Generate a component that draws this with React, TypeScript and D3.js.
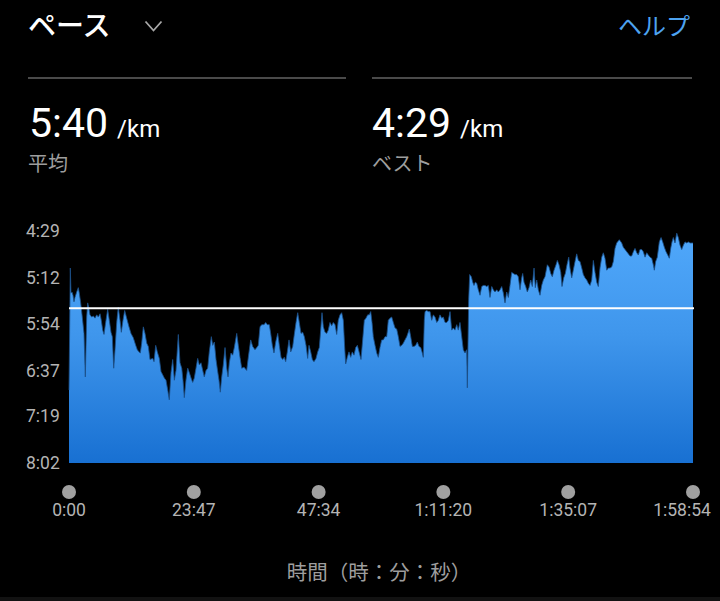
import React from "react";
import * as d3 from "d3";

// elapsed time (minutes) and pace (seconds per km)
const elapsedMin = [
  0, 0.25, 0.38, 0.57, 0.76, 0.95, 1.14, 1.47, 1.77, 1.96,
  2.23, 2.53, 2.86, 3.11, 3.37, 3.56, 3.75, 4.0, 4.33, 4.63,
  4.95, 5.28, 5.58, 5.91, 6.15, 6.42, 6.67, 6.99, 7.37, 7.68,
  8.0, 8.25, 8.52, 8.77, 9.09, 9.39, 9.72, 9.97, 10.29, 10.61,
  10.99, 11.43, 11.81, 12.25, 12.71, 13.01, 13.34, 13.59, 13.85, 14.16,
  14.48, 14.81, 15.11, 15.43, 15.95, 16.2, 16.52, 16.83, 17.21, 17.53,
  17.85, 18.16, 18.48, 18.81, 19.11, 19.44, 19.76, 20.07, 20.39, 20.83,
  21.15, 21.48, 21.72, 21.97, 22.29, 22.62, 22.92, 23.25, 23.57, 23.88,
  24.2, 24.52, 24.83, 25.15, 25.48, 25.78, 26.11, 26.43, 26.73, 27.12,
  27.38, 27.69, 28.01, 28.33, 28.58, 28.83, 29.1, 29.4, 29.73, 30.05,
  30.3, 30.55, 30.87, 31.19, 31.5, 31.96, 32.26, 32.58, 32.91, 33.35,
  33.86, 34.17, 34.62, 35.0, 35.44, 35.77, 36.07, 36.4, 36.72, 37.16,
  37.48, 37.79, 38.17, 38.43, 38.74, 39.06, 39.39, 39.77, 40.07, 40.4,
  40.72, 41.02, 41.29, 41.6, 41.92, 42.25, 42.63, 42.93, 43.26, 43.58,
  43.88, 44.21, 44.53, 44.84, 45.16, 45.48, 45.73, 46.06, 46.36, 46.68,
  47.07, 47.39, 47.7, 47.96, 48.21, 48.46, 48.78, 49.11, 49.41, 49.73,
  50.06, 50.36, 50.69, 51.01, 51.31, 51.64, 51.96, 52.27, 52.53, 52.72,
  53.03, 53.35, 53.68, 53.98, 54.31, 54.63, 54.94, 55.32, 55.64, 55.96,
  56.27, 56.59, 56.92, 57.22, 57.49, 57.74, 57.98, 58.31, 58.63, 58.94,
  59.26, 59.58, 59.89, 60.21, 60.54, 60.84, 61.17, 61.49, 61.8, 62.12,
  62.44, 62.75, 63.07, 63.4, 63.7, 64.02, 64.35, 64.65, 64.84, 65.11,
  65.42, 65.74, 66.06, 66.37, 66.69, 67.02, 67.32, 67.51, 67.7, 67.84,
  68.16, 68.46, 68.79, 69.11, 69.42, 69.74, 70.07, 70.37, 70.69, 71.02,
  71.32, 71.65, 71.97, 72.28, 72.6, 72.92, 73.23, 73.55, 73.88, 74.18,
  74.5, 74.83, 75.13, 75.46, 75.78, 75.9, 76.16, 76.35, 76.66, 76.93,
  77.17, 77.42, 77.69, 77.99, 78.32, 78.64, 78.94, 79.27, 79.59, 79.9,
  80.22, 80.55, 80.85, 81.17, 81.5, 81.8, 82.13, 82.45, 82.76, 83.08,
  83.4, 83.71, 84.03, 84.35, 84.66, 84.98, 85.31, 85.61, 85.94, 86.26,
  86.45, 86.7, 87.02, 87.33, 87.65, 87.98, 88.28, 88.61, 88.85, 89.12,
  89.43, 89.75, 90.07, 90.38, 90.7, 91.14, 91.46, 91.79, 92.09, 92.42,
  92.8, 93.05, 93.37, 93.7, 93.94, 94.27, 94.57, 94.89, 95.22, 95.46,
  95.79, 96.09, 96.42, 96.74, 97.05, 97.37, 97.7, 98.0, 98.32, 98.65,
  98.95, 99.28, 99.6, 99.91, 100.23, 100.55, 100.86, 101.18, 101.51, 101.81,
  102.13, 102.46, 102.76, 103.09, 103.41, 103.72, 104.04, 104.36, 104.86, 105.32,
  105.62, 105.95, 106.27, 106.58, 106.9, 107.22, 107.53, 107.85, 108.18, 108.48,
  108.8, 109.13, 109.43, 109.76, 110.08, 110.38, 110.71, 111.03, 111.34, 111.53,
  111.79, 112.1, 112.48, 112.81, 113.13, 113.44, 113.76, 114.08, 114.39, 114.65,
  114.9, 115.15, 115.47, 115.8, 116.1, 116.43, 116.75, 117.06, 117.38, 117.71,
  118.01, 118.34, 118.9,
];

const paceSec = [
  415, 303, 326, 325, 328, 334, 330, 325, 321, 326,
  335, 348, 363, 403, 348, 335, 339, 346, 348, 347,
  349, 346, 348, 345, 351, 360, 364, 353, 341, 351,
  362, 366, 395, 378, 353, 339, 351, 362, 351, 342,
  349, 357, 363, 367, 374, 378, 380, 381, 372, 357,
  363, 372, 375, 387, 386, 389, 374, 380, 386, 398,
  401, 404, 406, 415, 424, 399, 387, 406, 397, 364,
  390, 395, 406, 422, 406, 395, 399, 404, 408, 404,
  395, 386, 392, 390, 397, 403, 397, 395, 380, 366,
  374, 371, 387, 398, 406, 417, 403, 392, 376, 395,
  403, 390, 381, 383, 376, 363, 374, 385, 395, 394,
  397, 385, 369, 375, 378, 376, 374, 357, 355, 355,
  353, 355, 355, 363, 374, 381, 371, 363, 374, 385,
  387, 385, 389, 380, 369, 380, 375, 364, 353, 344,
  353, 363, 362, 366, 374, 386, 374, 380, 387, 389,
  386, 380, 376, 360, 344, 357, 362, 363, 360, 353,
  356, 353, 355, 364, 351, 346, 344, 351, 376, 391,
  385, 380, 385, 380, 383, 376, 374, 381, 387, 369,
  351, 349, 346, 346, 343, 353, 366, 374, 381, 385,
  376, 369, 369, 366, 366, 351, 349, 348, 353, 358,
  359, 366, 375, 374, 372, 369, 366, 362, 359, 366,
  375, 375, 374, 371, 375, 376, 381, 385, 351, 343,
  342, 343, 343, 351, 346, 348, 353, 351, 346, 349,
  348, 353, 353, 351, 343, 360, 358, 360, 355, 360,
  353, 366, 378, 381, 378, 413, 332, 309, 311, 316,
  319, 316, 317, 323, 328, 320, 319, 319, 320, 319,
  330, 320, 323, 325, 323, 325, 323, 320, 326, 335,
  325, 330, 319, 307, 308, 309, 309, 311, 323, 312,
  308, 316, 320, 325, 321, 314, 320, 303, 321, 314,
  323, 328, 319, 314, 311, 300, 302, 308, 311, 305,
  300, 296, 300, 307, 320, 312, 308, 300, 293, 303,
  312, 305, 297, 290, 296, 297, 303, 309, 312, 314,
  317, 319, 314, 296, 307, 316, 320, 303, 293, 289,
  294, 305, 303, 303, 302, 297, 285, 280, 277, 280,
  284, 286, 288, 290, 292, 292, 288, 285, 289, 291,
  286, 286, 288, 293, 289, 291, 293, 294, 300, 305,
  297, 293, 279, 275, 279, 284, 288, 291, 294, 285,
  279, 275, 280, 271, 275, 282, 286, 282, 279, 280,
  279, 280, 280,
];

const yTickSec = [269, 312, 354, 397, 439, 482];
const xTickSec = [0, 1427, 2854, 4280, 5707, 7134];
const avgPaceSec = 340;
const bestPaceSec = 269;
const totalSec = 7134;

const title = "ペース";
const helpLabel = "ヘルプ";
const avgLabel = "平均";
const bestLabel = "ベスト";
const unitLabel = "/km";
const xAxisTitle = "時間（時：分：秒）";

const W = 720;
const H = 601;
const FONT = "Roboto, 'Noto Sans CJK JP', 'Noto Sans', sans-serif";

const pad2 = (n: number) => String(n).padStart(2, "0");
const fmtPace = (s: number) => `${Math.floor(s / 60)}:${pad2(Math.round(s % 60))}`;
const fmtTime = (s: number) => {
  const h = Math.floor(s / 3600);
  const m = Math.floor((s % 3600) / 60);
  const sec = Math.round(s % 60);
  return h > 0 ? `${h}:${pad2(m)}:${pad2(sec)}` : `${m}:${pad2(sec)}`;
};

export default function App() {
  const plot = { left: 69, right: 693, top: 231, bottom: 463 };
  const x = d3.scaleLinear().domain([0, totalSec]).range([plot.left, plot.right]);
  const y = d3
    .scaleLinear()
    .domain([yTickSec[0], yTickSec[yTickSec.length - 1]])
    .range([plot.top, plot.bottom]);

  const data = elapsedMin.map((m, i) => ({ t: m * 60, p: paceSec[i] }));
  const area = d3
    .area<{ t: number; p: number }>()
    .x((d) => x(d.t))
    .y0(plot.bottom)
    .y1((d) => y(d.p))
    .curve(d3.curveLinear);
  const line = d3
    .line<{ t: number; p: number }>()
    .x((d) => x(d.t))
    .y((d) => y(d.p));

  const labelW = 58;
  return (
    <svg
      width={W}
      height={H}
      viewBox={`0 0 ${W} ${H}`}
      style={{ position: "fixed", left: 0, top: 0, display: "block" }}
      fontFamily={FONT}
    >
      <defs>
        <linearGradient id="fillGrad" gradientUnits="userSpaceOnUse" x1="0" y1={plot.top} x2="0" y2={plot.bottom}>
          <stop offset="0%" stopColor="#50a8fb" />
          <stop offset="45%" stopColor="#3f96ec" />
          <stop offset="100%" stopColor="#1870d2" />
        </linearGradient>
      </defs>
      <rect x={0} y={0} width={W} height={H} fill="#000" />
      <rect x={0} y={H - 4} width={W} height={4} fill="#121212" />

      {/* header */}
      <text x={28} y={36} fill="#fff" fontSize={28} fontWeight={500}>
        {title}
      </text>
      <path d="M145.5,21.5 L153.5,30.5 L161.5,21.5" fill="none" stroke="#a8a8a8" strokeWidth={1.8} />
      <text x={690} y={35} fill="#4da3f0" fontSize={24} textAnchor="end">
        {helpLabel}
      </text>
      <rect x={28} y={77} width={318} height={2} fill="#4a4a4a" />
      <rect x={372} y={77} width={320} height={2} fill="#4a4a4a" />

      <text x={29} y={137} fill="#fff" fontSize={41}>
        {fmtPace(avgPaceSec)}
        <tspan dx={9} fontSize={24}>{unitLabel}</tspan>
      </text>
      <text x={28} y={171} fill="#9e9e9e" fontSize={20}>
        {avgLabel}
      </text>
      <text x={372} y={137} fill="#fff" fontSize={41}>
        {fmtPace(bestPaceSec)}
        <tspan dx={9} fontSize={24}>{unitLabel}</tspan>
      </text>
      <text x={372} y={171} fill="#9e9e9e" fontSize={20}>
        {bestLabel}
      </text>

      {/* y axis labels */}
      {yTickSec.map((v) => (
        <text key={v} x={26} y={y(v)} dy="0.36em" fill="#b4b4b4" fontSize={17.5}>
          {fmtPace(v)}
        </text>
      ))}

      {/* area */}
      <path d={area(data) || ""} fill="url(#fillGrad)" />
      <path d={line(data) || ""} fill="none" stroke="#1b4f88" strokeWidth={0.9} strokeOpacity={0.9} />

      {/* average line */}
      <line x1={plot.left} x2={plot.right + 1} y1={y(avgPaceSec)} y2={y(avgPaceSec)} stroke="#fff" strokeWidth={2} />

      {/* x axis */}
      {xTickSec.map((v) => {
        const cx = x(v);
        const lx = Math.min(cx, W - 9 - labelW / 2);
        return (
          <g key={v}>
            <circle cx={cx} cy={492} r={7} fill="#a0a0a0" />
            <text x={lx} y={516} fill="#b4b4b4" fontSize={17.5} textAnchor="middle">
              {fmtTime(v)}
            </text>
          </g>
        );
      })}
      <text x={379} y={580} fill="#9e9e9e" fontSize={20.5} textAnchor="middle">
        {xAxisTitle}
      </text>
    </svg>
  );
}
